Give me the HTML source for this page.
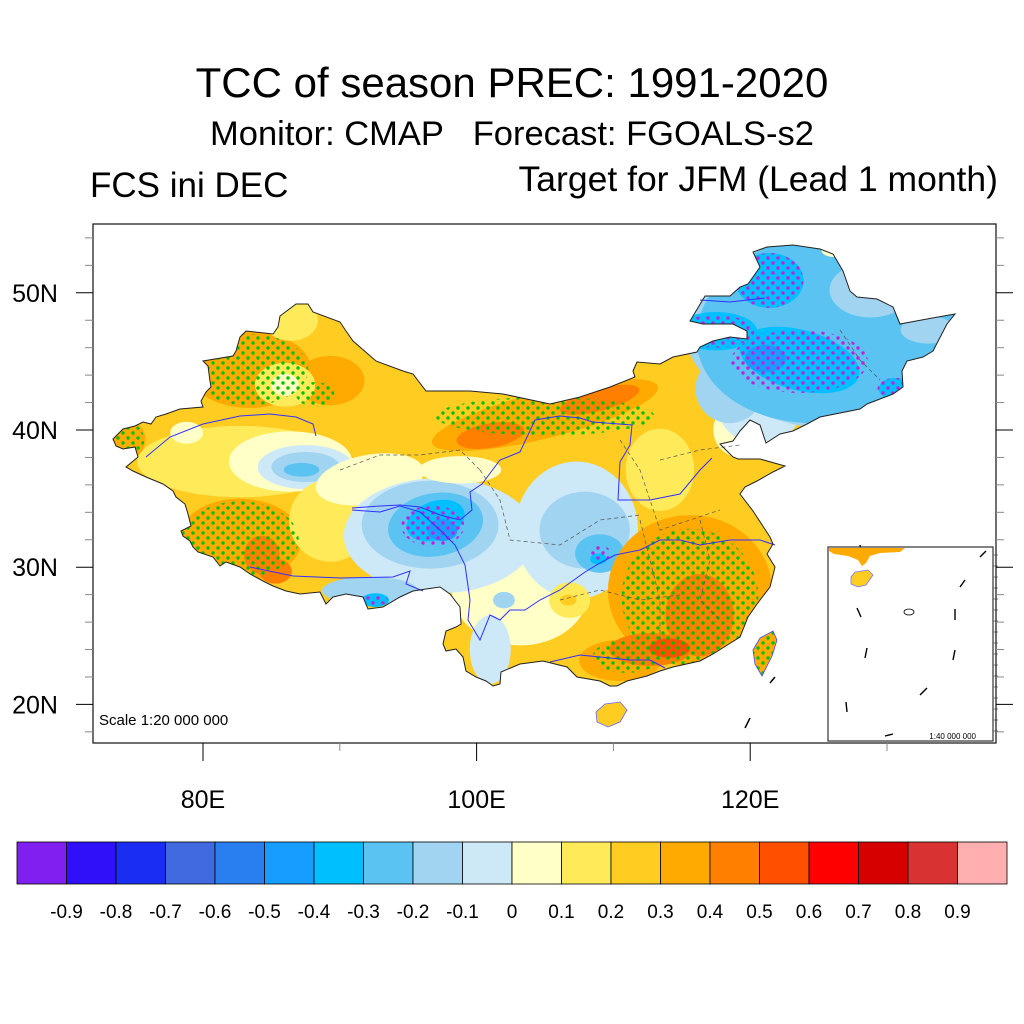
<!DOCTYPE html>
<html><head><meta charset="utf-8"><style>
html,body{margin:0;padding:0;background:#fff;}
svg{display:block;font-family:"Liberation Sans",Arial,sans-serif;}
</style></head><body>
<svg id="chart" width="1024" height="1024" viewBox="0 0 1024 1024" xmlns="http://www.w3.org/2000/svg">
<defs>
<pattern id="dotG" width="10" height="10" patternUnits="userSpaceOnUse"><circle cx="3" cy="3" r="1.7" fill="#00c000"/><circle cx="8" cy="8" r="1.7" fill="#00c000"/></pattern>
<pattern id="dotM" width="10" height="10" patternUnits="userSpaceOnUse"><circle cx="3" cy="3" r="1.7" fill="#c020e0"/><circle cx="8" cy="8" r="1.7" fill="#c020e0"/></pattern>
<clipPath id="chinaClip"><path id="clipPathShape"/></clipPath>
</defs>
<text x="512" y="97" font-size="42" text-anchor="middle">TCC of season PREC: 1991-2020</text>
<text x="512" y="145" font-size="34.5" text-anchor="middle">Monitor: CMAP&#160;&#160;&#160;Forecast: FGOALS-s2</text>
<text x="90" y="197" font-size="35">FCS ini DEC</text>
<text x="998" y="191" font-size="35.5" text-anchor="end">Target for JFM (Lead 1 month)</text>
<g id="mapLayer"></g>
<g id="axesLayer"></g>
<g id="cbLayer"></g>
</svg>
<script>
// colorbar levels and colours
const cbLabels = ["-0.9","-0.8","-0.7","-0.6","-0.5","-0.4","-0.3","-0.2","-0.1","0","0.1","0.2","0.3","0.4","0.5","0.6","0.7","0.8","0.9"];
const cbLevels = [-0.9,-0.8,-0.7,-0.6,-0.5,-0.4,-0.3,-0.2,-0.1,0,0.1,0.2,0.3,0.4,0.5,0.6,0.7,0.8,0.9];
const cbColors = ["#8020f0","#3010f8","#1a2df2","#4169e0","#2a7ff0","#179dff","#00bfff","#5ac3f2","#a0d4f0","#cde8f7","#ffffc8","#ffeb5a","#ffcc22","#ffaa00","#ff8000","#ff5000","#ff0000","#d70000","#d93232","#ffafaf"];
// axis ticks
const latTicks = [50,40,30,20];
const latLabels = ["50N","40N","30N","20N"];
const lonTicks = [80,100,120];
const lonLabels = ["80E","100E","120E"];
// correlation anomaly patches (lon, lat, radius lon, radius lat, value, rotation)
const patchLon = [82.7,86.4,78.8,87.5,87.5,87.2,83.4,89.3,86.0,86.0,86.4,74.3,82.7,84.3,85.3,89.3,92.2,103.2,97.3,96.6,97.0,97.0,97.5,92.2,92.6,105.0,101.0,109.0,98.8,107.3,107.9,109.0,108.9,101.0,102.0,113.4,115.6,110.5,116.3,112.7,114.1,106.8,106.7,119.3,120.7,127.0,118.5,126.0,128.8,133.0,123.6,121.4,130.6,117.5,121.1,126.2];
const patchLat = [37.7,37.7,39.8,37.3,37.3,37.1,44.4,43.6,43.3,43.3,48.0,39.3,32.0,30.9,29.7,33.4,36.4,28.3,32.3,33.1,33.1,33.4,32.7,28.3,27.6,41.1,39.6,42.2,37.1,32.7,32.7,31.0,30.6,24.0,27.6,37.1,28.3,23.2,26.5,24.0,24.1,27.6,27.6,40.0,41.5,48.0,43.0,47.6,50.2,47.3,45.1,50.9,43.0,47.2,45.2,53.1];
const patchRx = [7.5,4.5,1.2,3.5,2.5,1.3,4.5,2.5,2.2,1.0,2.0,1.5,4.5,1.3,1.2,3.0,4.0,5.0,7.0,5.0,3.5,2.2,1.1,3.5,1.0,8.5,2.5,3.0,3.0,4.5,3.3,1.8,0.6,1.5,0.8,2.5,6.0,3.0,2.5,3.0,1.5,1.5,0.6,2.0,3.0,12.0,2.5,10.0,3.0,2.0,4.5,2.5,1.2,3.0,1.5,1.0];
const patchRy = [2.6,2.2,0.8,1.6,1.1,0.5,2.8,1.8,1.6,0.8,1.5,1.5,3.0,1.4,0.9,3.0,1.8,4.0,4.2,3.2,2.3,1.4,0.8,1.0,0.5,1.7,0.9,0.8,1.0,5.0,2.8,1.4,0.4,2.5,0.6,3.0,5.5,1.5,3.0,1.2,0.7,1.3,0.4,2.0,2.5,8.0,2.5,7.0,2.0,1.0,2.2,2.0,0.8,1.4,1.0,0.5];
const patchVal = [0.15,0.05,0.05,-0.05,-0.15,-0.25,0.35,0.35,0.15,0.05,0.15,0.35,0.35,0.45,0.45,0.15,0.05,0.05,-0.05,-0.15,-0.25,-0.35,-0.45,-0.15,-0.35,0.35,0.45,0.45,0.05,-0.05,-0.15,-0.25,-0.35,-0.05,-0.15,0.15,0.35,0.35,0.45,0.45,0.55,0.15,0.25,0.05,-0.05,-0.15,-0.15,-0.25,-0.15,-0.15,-0.35,-0.35,-0.35,-0.35,-0.45,0.05];
const patchRot = [0,0,0,0,0,0,0,0,0,0,0,0,0,0,0,0,-10,0,0,0,-10,-20,0,0,0,-14,-10,-15,0,0,0,0,0,0,0,0,0,0,0,0,0,0,0,0,0,0,0,-10,0,0,15,0,0,0,0,0];
// significance stippling regions
const stipLon = [83.4,74.3,82.7,88.2,105.0,115.6,111.0,96.8,123.6,121.4,130.6,109.0,92.6,117.5];
const stipLat = [44.4,39.3,32.0,42.6,41.0,27.8,23.5,33.0,45.0,50.9,43.0,31.0,27.6,47.2];
const stipRx = [4.3,1.4,4.3,1.4,8.0,5.0,2.5,2.3,5.0,2.5,1.3,0.8,0.9,2.8];
const stipRy = [2.6,1.3,2.8,0.9,1.4,5.0,1.2,1.5,2.3,2.0,0.8,0.6,0.4,1.2];
const stipSign = [1,1,1,1,1,1,1,-1,-1,-1,-1,-1,-1,-1];

const X0=93,X1=996,Y0=224,Y1=743;
function px(lon){return 203+(lon-80)*13.68;}
function py(lat){return 430-(lat-40)*13.72;}
function colorFor(v){let i=0;while(i<cbLevels.length&&v>=cbLevels[i])i++;return cbColors[i];}
const NS="http://www.w3.org/2000/svg";
function mk(tag,attrs,parent){const e=document.createElementNS(NS,tag);for(const k in attrs)e.setAttribute(k,attrs[k]);parent.appendChild(e);return e;}

// basemap outline (pixel geometry of the mainland border)
const border="M610,387 L580,397 550,404 503,394 470,391 426,391 413,374 403,371 376,361 353,341 346,331 340,322 313,312 308,304 296,304 280,316 278,327 273,334 246,331 240,337 236,351 233,356 203,361 208,366 210,381 211,387 206,392 201,401 203,407 180,409 166,414 156,417 151,424 143,422 135,426 123,429 118,434 113,439 116,446 123,449 135,447 138,457 126,467 133,471 146,477 163,484 173,491 176,497 185,504 188,514 191,526 181,531 183,536 190,541 193,547 198,552 213,557 220,566 226,562 240,567 250,574 263,581 273,586 286,591 300,594 320,592 326,604 333,597 346,594 363,597 368,609 383,607 400,597 413,591 426,589 440,587 450,594 460,607 461,624 456,627 446,631 443,644 446,651 456,649 463,657 466,671 476,677 486,681 493,686 500,684 501,672 520,664 543,661 567,667 577,677 600,681 610,686 617,686 627,681 647,676 660,671 673,667 700,661 713,654 740,637 748,617 757,604 770,587 775,567 767,554 773,544 770,537 753,511 740,494 745,487 757,481 773,472 785,466 760,459 738,459 733,457 720,444 733,441 740,431 750,420 760,425 766,443 780,434 793,431 807,424 820,417 860,409 867,404 893,394 903,387 902,371 907,361 923,357 933,351 947,324 955,314 927,319 900,324 893,307 877,299 857,297 850,291 843,271 833,254 820,249 793,245 767,247 753,252 760,267 748,284 740,287 730,296 705,296 690,321 703,324 733,324 747,331 747,339 730,337 713,341 700,347 697,352 673,357 660,364 637,362 633,371 635,377 Z";
const taiwan="M773,631 L777,640 772,656 762,676 755,664 753,650 760,638 Z";
const hainan="M605,704 L620,702 627,710 620,722 608,727 597,722 596,712 Z";
document.getElementById('clipPathShape').setAttribute('d',border+" "+taiwan+" "+hainan);

const map=document.getElementById('mapLayer');
const clipG=mk('g',{'clip-path':'url(#chinaClip)'},map);


mk('rect',{x:X0,y:Y0,width:X1-X0,height:Y1-Y0,fill:colorFor(0.25)},clipG);
for(let i=0;i<patchVal.length;i++){
  const cx=px(patchLon[i]),cy=py(patchLat[i]);
  const e=mk('ellipse',{cx:cx,cy:cy,rx:patchRx[i]*13.68,ry:patchRy[i]*13.72,fill:colorFor(patchVal[i]),transform:`rotate(${patchRot[i]} ${cx} ${cy})`},clipG);
  
  
}
mk('path',{d:taiwan,fill:colorFor(0.35)},clipG);
for(let i=0;i<stipLon.length;i++){
  const e=mk('ellipse',{cx:px(stipLon[i]),cy:py(stipLat[i]),rx:stipRx[i]*13.68,ry:stipRy[i]*13.72,fill:stipSign[i]>0?'url(#dotG)':'url(#dotM)'},clipG);
  
  
}
mk('path',{d:taiwan,fill:'url(#dotG)'},clipG);
// rivers
const rivers=[
 "146,457 170,437 203,424 240,416 270,414 296,417 313,424 316,436",
 "250,567 293,576 340,578 393,577 410,571 406,584 423,591",
 "352,508 380,506 400,505 420,507 440,515 460,520 472,510 470,492 482,484 500,460 520,452 535,420 560,416 580,418 593,422 632,425 630,445 620,462 618,500 650,500 680,494 700,470 712,458",
 "352,510 380,512 400,506 420,512 440,530 455,545 465,565 470,600 468,620 480,640 490,615 500,620 510,610 525,610 540,600 560,590 585,572 600,563 615,555 640,550 660,540 680,540 700,545 730,540 760,540 775,545",
 "550,662 580,655 610,658 630,660 650,660 665,668",
 "700,300 730,302 765,298"
];
rivers.forEach(d=>{const r=mk('path',{d:'M'+d,fill:'none',stroke:'#3030ff','stroke-width':1},map);

});
const prov=["340,470 380,455 420,455 460,450 480,470","480,470 500,500 510,540 560,545 600,520 640,515","620,440 640,470 650,500 660,530 690,520 720,510","560,600 600,590 640,600 680,595","640,520 650,560 660,600 660,640","700,520 710,560 700,600 720,620","840,330 860,360 880,380","660,460 700,450 740,445"];
prov.forEach(d=>{const r=mk('path',{d:'M'+d,fill:'none',stroke:'#555','stroke-width':0.7,'stroke-dasharray':'4 3'},map);

});
const b=mk('path',{d:border,fill:'none',stroke:'#222','stroke-width':1},map);


mk('path',{d:taiwan,fill:'none',stroke:'#44f','stroke-width':0.8},map);
mk('path',{d:hainan,fill:colorFor(0.25),stroke:'#66f','stroke-width':0.8},map);
[[770,683,775,677],[745,728,750,718],[860,545,862,556]].forEach(s=>mk('line',{x1:s[0],y1:s[1],x2:s[2],y2:s[3],stroke:'#000','stroke-width':1.5},map));
mk('text',{x:99,y:725,'font-size':15},map).textContent="Scale 1:20 000 000";

// inset
const ins=mk('g',{},map);


mk('rect',{x:828,y:547,width:165,height:194,fill:'#fff',stroke:'#333','stroke-width':1.2},ins);
mk('path',{d:"M829,548 L905,548 900,552 880,553 870,556 866,563 862,566 858,560 848,556 834,554 829,551 Z",fill:colorFor(0.35)},ins);
mk('path',{d:"M855,572 L868,570 873,575 866,585 858,587 851,584 851,577 Z",fill:colorFor(0.25),stroke:'#77f','stroke-width':0.8},ins);
[[980,557,986,551],[960,587,965,580],[857,608,861,617],[955,609,955,620],[867,648,865,658],[955,650,953,660],[846,702,847,712],[920,695,927,688],[885,736,893,734]].forEach(s=>mk('line',{x1:s[0],y1:s[1],x2:s[2],y2:s[3],stroke:'#000','stroke-width':1.4},ins));
mk('ellipse',{cx:909,cy:612,rx:5,ry:3,fill:'none',stroke:'#000','stroke-width':0.8},ins);
mk('text',{x:976,y:739,'font-size':8,'text-anchor':'end'},ins).textContent="1:40 000 000";
for(let y=555;y<741;y+=11)mk('line',{x1:993,y1:y,x2:998,y2:y,stroke:'#555','stroke-width':0.7},ins);

// axes
const ax=document.getElementById('axesLayer');
mk('rect',{x:X0,y:Y0,width:X1-X0,height:Y1-Y0,fill:'none',stroke:'#222','stroke-width':1.3},ax);
for(let lat=18;lat<=54;lat+=2){
  const y=py(lat);const major=latTicks.includes(lat);
  mk('line',{x1:X0,y1:y,x2:X0-(major?17:8),y2:y,stroke:major?'#000':'#888','stroke-width':1},ax);
  mk('line',{x1:X1,y1:y,x2:X1+(major?17:8),y2:y,stroke:major?'#000':'#888','stroke-width':1},ax);
}
latTicks.forEach((lat,i)=>{const t=mk('text',{x:58,y:py(lat)+9,'font-size':25,'text-anchor':'end'},ax);t.textContent=latLabels[i];

});
for(let lon=80;lon<=130;lon+=10){
  const x=px(lon);const major=lonTicks.includes(lon);
  mk('line',{x1:x,y1:Y1,x2:x,y2:Y1+(major?18:8),stroke:major?'#000':'#888','stroke-width':1},ax);
}
lonTicks.forEach((lon,i)=>{const t=mk('text',{x:px(lon),y:808,'font-size':25,'text-anchor':'middle'},ax);t.textContent=lonLabels[i];

});

// colorbar
const cb=document.getElementById('cbLayer');
const cbX=17,cbW=990/cbColors.length;
cbColors.forEach((c,i)=>{const r=mk('rect',{x:cbX+i*cbW,y:842,width:cbW,height:42,fill:c,stroke:'#000','stroke-width':0.8},cb);

});
cbLabels.forEach((l,i)=>{const t=mk('text',{x:cbX+(i+1)*cbW,y:918,'font-size':19,'text-anchor':'middle'},cb);t.textContent=l;

});
</script>
</body></html>
